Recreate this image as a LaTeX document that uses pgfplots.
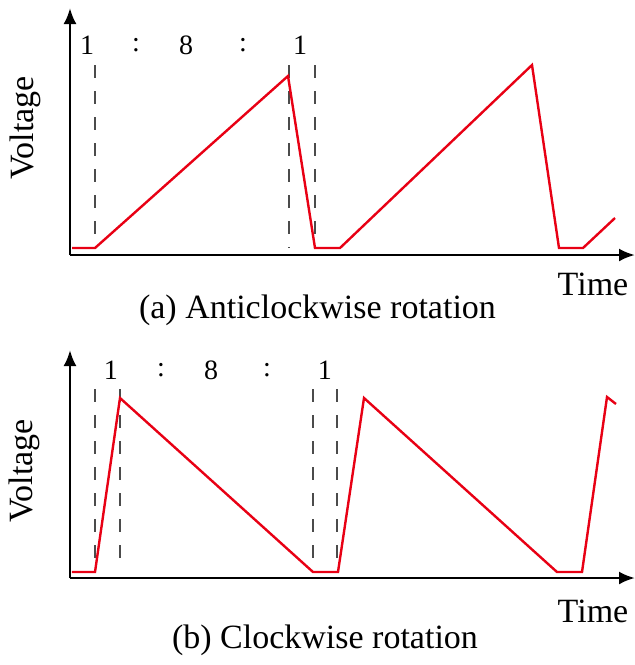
\documentclass[border=0pt]{standalone}
\usepackage{pgfplots}
\pgfplotsset{compat=1.18}
\usepackage{fontspec}
\setmainfont{Liberation Serif}
\usetikzlibrary{arrows.meta}
\definecolor{wred}{RGB}{232,0,20}
\definecolor{dgray}{RGB}{75,75,75}
\tikzset{
  big/.style={font=\fontsize{17}{20}\selectfont},
  small/.style={font=\fontsize{14}{17}\selectfont},
}
\pgfplotsset{
  wave/.style={scale only axis, width=282.5pt, xmin=70, xmax=635, ymin=0,
    axis lines=left, xtick=\empty, ytick=\empty, clip=false,
    axis line style={line width=1.3pt, -{Latex[length=8pt,width=6.5pt]}}},
  sig/.style={wred, line width=1.2pt, line join=miter, mark=none},
  cut/.style={dgray, line width=1.3pt, dash pattern=on 6.5pt off 6.5pt, mark=none},
}
\begin{document}
\begin{tikzpicture}
\path[use as bounding box] (0,0) rectangle (317.5pt,-332.5pt);
% (a)
\begin{axis}[wave, at={(35pt,-127.5pt)}, anchor=south west, height=123.5pt, ymax=247]
\addplot[cut] coordinates {(95,190) (95,7)};
\addplot[cut] coordinates {(289,190) (289,7)};
\addplot[cut] coordinates {(315,190) (315,7)};
\addplot[sig] coordinates {(72,7) (95,7) (288,179) (315,7) (340,7) (532,190) (559,7) (583,7) (615,37)};
\node[small] at (axis cs:87,210) {1};
\node[small] at (axis cs:136,210) {:};
\node[small] at (axis cs:186,210) {8};
\node[small] at (axis cs:243,210) {:};
\node[small] at (axis cs:300,210) {1};
\node[big, rotate=90] at (axis cs:25,127) {Voltage};
\node[big, anchor=base] at (axis cs:593,-40) {Time};
\node[big, anchor=base] at (axis cs:317.5,-63) {(a) Anticlockwise rotation};
\end{axis}
% (b)
\begin{axis}[wave, at={(35pt,-289pt)}, anchor=south west, height=114pt, ymax=228]
\addplot[cut] coordinates {(95,189) (95,15)};
\addplot[cut] coordinates {(120,189) (120,15)};
\addplot[cut] coordinates {(313,189) (313,15)};
\addplot[cut] coordinates {(337,189) (337,15)};
\addplot[sig] coordinates {(72,6) (95,6) (120,180) (313,6) (338,6) (364,180) (557,6) (582,6) (607,181) (616,174)};
\node[small] at (axis cs:111,208) {1};
\node[small] at (axis cs:161,208) {:};
\node[small] at (axis cs:211,208) {8};
\node[small] at (axis cs:267,208) {:};
\node[small] at (axis cs:325,208) {1};
\node[big, rotate=90] at (axis cs:24,107) {Voltage};
\node[big, anchor=base] at (axis cs:593,-44) {Time};
\node[big, anchor=base] at (axis cs:325,-70) {(b) Clockwise rotation};
\end{axis}
\end{tikzpicture}
\end{document}
